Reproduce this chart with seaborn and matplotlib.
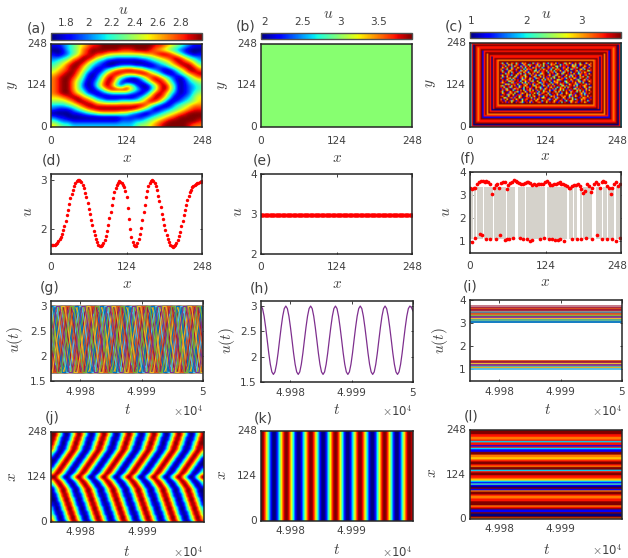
"""Twelve-panel lattice figure: snapshots, profiles, time series and space-time plots."""
import matplotlib
matplotlib.use('Agg')
import matplotlib.pyplot as plt  # noqa: E402
from matplotlib.transforms import ScaledTranslation  # noqa: E402
import numpy as np  # noqa: E402
import pandas as pd  # noqa: E402
import seaborn as sns  # noqa: E402

W, H = 628, 558
INK = '#404040'
EDGE = '#262626'
MATLAB = ['#0072BD', '#D95319', '#EDB120', '#7E2F8E', '#77AC30', '#4DBEEE', '#A2142F']

T_START, T_END = 49975.2, 50000
X_TICKS = [0, 124, 248]
T_TICKS = [49980, 49990, 50000]
T_LABELS = ['4.998', '4.999', '5']

# colour levels 0-9, top row first
SPIRAL_ROWS = [
    '1123456788999999999998876543211',
    '0013457899999988899987654321000',
    '1012457898876666666778998642101',
    '2234679986533222223345678986432',
    '3456899753210000000123456898753',
    '4568997532100122211001235689975',
    '5678986420135789987532101357997',
    '6789975201368987789975310135789',
    '7899864102589642113689753102467',
    '7899753013698510001368974201345',
    '7899752014797316520025896301234',
    '7899753102479999642025896301234',
    '7899865210123333210258974201245',
    '6678997642100000013579863012356',
    '5556799875433344445798630123456',
    '3334568998888888899853101345677',
    '2111245789999999986420123456788',
    '0000112345666655321012345678999',
    '2110000000000011111234567899999',
    '4322111111111122233456789999998',
    '6544333333333333345567899999877',
]
SPIRAL_RANGE = (1.67, 2.99)
SPIRAL_TICKS = [1.8, 2, 2.2, 2.4, 2.6, 2.8]
SPIRAL_LABELS = ['1.8', '2', '2.2', '2.4', '2.6', '2.8']

UNIFORM_U = 2.97
UNIFORM_RANGE = (1.95, 3.94)
UNIFORM_TICKS = [2, 2.5, 3, 3.5]
UNIFORM_LABELS = ['2', '2.5', '3', '3.5']

# panel (c): colour of each nested frame from the edge inward, then the speckled core
FRAME_RANGE = (0.97, 3.71)
FRAME_TICKS = [1, 2, 3]
FRAME_RINGS = '38098789189798089879'
CORE_ROWS = [
    '989818969089874198961899878199698987918949899168978198968919',
    '891799847918996989187996899489781996891789149867998917989489',
    '718969198968914987998179681998974189689981798996148996879198',
    '996489871799689198894981979668918997148996891784999189678981',
    '879916998189479986179869981149899687189978699418968917989698',
    '198974896918871996849799168998794198961789989648179987941899',
    '968918779499186897918969481789961989879149968979819986148979',
    '849991689874189961978898149968717998496189979168984979618998',
    '971868994198979618849691798948996117898694989718996849817969',
    '189749918687991498968197994816898971499687918989461798996189',
    '896198479981689497818996874199718698941789694899187989168947',
    '748998169719489868919747989168949817998946179889614989768991',
    '991674898896119784989618799489187969189478991689874198986179',
    '868919947189896149791889964179899418769898147998961879491998',
    '179894687998149968187499691878994916878199469817989641789968',
    '989168941798916789849719981694978819964789198968917499861798',
    '719987496891984179968914789961879496198978149889671948997189',
    '948169899471987968919848996179818974996819789416989178699489',
    '869978149968189749917986148979986918479981969847189969187998',
    '199487918996849179869718994689917989168947998189691478988169',
    '978196948919789681499879681789949871699184798961989417968991',
    '849917689989147968198946179889618794989691784919986179899648',
    '791849968179989416878994917968981499687918968947189976149898',
    '968979148996817949891687989419978168949917896198784991689179',
    '189498971689948178969917848969179899461798818996479189968917',
    '987916849978191689478998617949891687999418978916849167989168',
    '849169978948916879919481789968149789618998479681979849916897',
]

# panel (d): u(x), one value every 2 sites
PROFILE_STEP = 2
PROFILE_U = [
    1.68, 1.68, 1.69, 1.69, 1.70, 1.72, 1.76, 1.80, 1.85, 1.91,
    1.98, 2.07, 2.17, 2.28, 2.40, 2.52, 2.63, 2.72, 2.80, 2.87,
    2.93, 2.97, 2.99, 2.99, 2.98, 2.95, 2.90, 2.83, 2.74, 2.65,
    2.54, 2.42, 2.30, 2.19, 2.08, 1.97, 1.88, 1.80, 1.74, 1.69,
    1.66, 1.66, 1.68, 1.72, 1.78, 1.86, 1.96, 2.08, 2.22, 2.36,
    2.50, 2.63, 2.75, 2.83, 2.90, 2.94, 2.97, 2.96, 2.94, 2.90,
    2.85, 2.78, 2.66, 2.44, 2.20, 2.00, 1.85, 1.75, 1.68, 1.66,
    1.66, 1.72, 1.80, 1.90, 2.02, 2.18, 2.35, 2.50, 2.65, 2.77,
    2.87, 2.93, 2.98, 2.99, 2.98, 2.94, 2.88, 2.79, 2.68, 2.57,
    2.45, 2.32, 2.20, 2.09, 1.98, 1.88, 1.80, 1.74, 1.69, 1.66,
    1.65, 1.66, 1.68, 1.72, 1.78, 1.86, 1.95, 2.06, 2.17, 2.29,
    2.40, 2.50, 2.60, 2.68, 2.75, 2.80, 2.85, 2.88, 2.90, 2.92,
    2.93, 2.94, 2.95, 2.96, 2.97,
]

# panel (f): gray stems, upper dots every 3 sites, sparse lower dots
BAR_START = [0, 6.4, 11, 22.5, 40, 48, 60, 79.5, 92, 126, 163, 170, 180, 186, 207, 218, 226, 240]
BAR_END = [4.3, 10, 21, 37.5, 47, 59, 73.5, 91, 123.5, 158.5, 169, 176, 184, 201, 217, 225, 236, 248]
BAR_LOW, BAR_HIGH = 1.1, 3.35
UPPER_STEP = 3
UPPER_U = [
    3.30, 3.28, 3.30, 3.33, 3.50, 3.55, 3.60, 3.62, 3.58, 3.60, 3.55, 3.48, 3.05, 3.30, 3.45, 3.50,
    3.30, 3.52, 3.55, 3.55, 3.25, 3.45, 3.52, 3.55, 3.65, 3.63, 3.55, 3.52, 3.50, 3.50, 3.52, 3.55,
    3.55, 3.52, 3.45, 3.48, 3.45, 3.47, 3.47, 3.48, 3.50, 3.55, 3.60, 3.52, 3.45, 3.45, 3.50, 3.50,
    3.52, 3.55, 3.50, 3.48, 3.45, 3.40, 3.30, 3.32, 3.40, 3.45, 3.45, 3.50, 3.40, 3.25, 3.10, 3.20,
    3.50, 3.40, 3.15, 3.30, 3.50, 3.55, 3.50, 3.30, 3.55, 3.60, 3.55, 3.40, 3.30, 3.05, 3.30, 3.50,
    3.55, 3.40, 3.50,
]
LOWER_X = [2.7, 9, 16, 19, 26, 33, 42, 50, 57, 60, 64, 70, 82, 87, 94, 98, 102, 115, 122, 129, 134,
           139, 144, 148, 155, 167, 175, 182, 191, 200, 208, 217, 225, 233, 240, 246]
LOWER_U = [0.97, 1.14, 1.32, 1.26, 1.10, 1.09, 1.09, 1.26, 1.07, 1.10, 1.10, 1.14, 1.16, 1.10, 1.10,
           1.04, 1.07, 1.10, 1.14, 1.12, 1.10, 1.07, 1.07, 1.12, 1.04, 1.09, 1.10, 1.10, 1.14, 1.10,
           1.29, 1.10, 1.10, 1.10, 1.03, 1.14]

# panel (j): one wave pattern per phase, and which pattern each row shows (bottom row first).
# The same rows give the lines of panel (g), each drawn at several small time lags so the
# crossings fill in like the 248 lines of the original.
WAVE_PATTERNS = [
    '9841014898410148984101489841014898410148984101489',
    '9963003699630036996300369963003699630036996300369',
    '8984101489841014898410148984101489841014898410148',
    '6996300369963003699630036996300369963003699630036',
    '4898410148984101489841014898410148984101489841014',
    '3699630036996300369963003699630036996300369963003',
    '1489841014898410148984101489841014898410148984101',
    '0369963003699630036996300369963003699630036996300',
    '0148984101489841014898410148984101489841014898410',
    '0036996300369963003699630036996300369963003699630',
    '1014898410148984101489841014898410148984101489841',
    '3003699630036996300369963003699630036996300369963',
    '4101489841014898410148984101489841014898410148984',
    '6300369963003699630036996300369963003699630036996',
    '8410148984101489841014898410148984101489841014898',
    '9630036996300369963003699630036996300369963003699',
]
WAVE_ROW_PHASE = [14, 13, 13, 12, 12, 11, 11, 10, 10, 9, 9, 8, 8, 7, 7, 6, 5, 4, 3, 1,
                  1, 3, 4, 5, 6, 7, 8, 9, 10, 11, 12, 13, 14, 14, 15, 15, 0, 0, 1, 1]
WAVE_LAGS = [-0.26, -0.20, -0.13, -0.07, 0.0, 0.07, 0.13, 0.20]

# panel (h)/(k): u(t) of the synchronised state
SYNC_U = [
    3.00, 2.95, 2.80, 2.58, 2.33, 2.07, 1.85, 1.70, 1.65, 1.70, 1.85, 2.07, 2.33, 2.58, 2.80, 2.95,
    3.00, 2.95, 2.80, 2.58, 2.33, 2.07, 1.85, 1.70, 1.65, 1.70, 1.85, 2.07, 2.33, 2.58, 2.80, 2.95,
    3.00, 2.95, 2.80, 2.58, 2.33, 2.07, 1.85, 1.70, 1.65, 1.70, 1.85, 2.07, 2.33, 2.58, 2.80, 2.95,
    3.00, 2.95, 2.80, 2.58, 2.33, 2.07, 1.85, 1.70, 1.65, 1.70, 1.85, 2.07, 2.33, 2.58, 2.80, 2.95,
    3.00, 2.95, 2.80, 2.58, 2.33, 2.07, 1.85, 1.70, 1.65, 1.70, 1.85, 2.07, 2.33, 2.58, 2.80, 2.95,
    3.00, 2.95, 2.80, 2.58, 2.33, 2.07, 1.85, 1.70, 1.65, 1.70, 1.85, 2.07, 2.33, 2.58, 2.80, 2.95,
    3.00, 2.97, 2.90,
]

# panel (i): constant levels and the colour each one shows
LEVEL_U = [3.74, 3.66, 3.61, 3.55, 3.49, 3.45, 3.39, 3.31, 3.25, 3.20, 3.14, 3.05,
           1.37, 1.31, 1.25, 1.18, 1.12, 1.06, 1.00]
LEVEL_COLORS = ['#C07080', '#A2142F', '#D95319', '#A2142F', '#808080', '#5A7A9A', '#D95319', '#77AC30',
                '#7E2F8E', '#EDB120', '#4DAE90', '#0072BD', '#D95319', '#A2142F', '#EDB120', '#7E2F8E',
                '#4DAE90', '#EDB120', '#4DBEEE']

# panel (l): colour of each stripe, top first
STRIPES = '99988778388183119977678998799389988763141091799877889997891190097'

sns.set_theme(style='ticks', rc={
    'font.family': 'DejaVu Sans', 'mathtext.fontset': 'cm', 'font.size': 7.6,
    'axes.edgecolor': EDGE, 'axes.linewidth': 1.1, 'text.color': INK,
    'xtick.color': INK, 'ytick.color': INK, 'xtick.labelsize': 7.6, 'ytick.labelsize': 7.6,
    'xtick.direction': 'in', 'ytick.direction': 'in', 'xtick.top': True, 'ytick.right': True,
    'xtick.major.size': 1.8, 'ytick.major.size': 1.8, 'xtick.major.width': 0.7,
    'ytick.major.width': 0.7, 'xtick.major.pad': 4.5, 'ytick.major.pad': 3,
})

fig = plt.figure(figsize=(W / 100, H / 100), dpi=100)


def add_box(left, top, right, bottom):
    return fig.add_axes([left / W, 1 - bottom / H, (right - left) / W, (bottom - top) / H])


def label(px, py, text, size=7.6, rotation=0, ha='center'):
    fig.text(px / W, 1 - py / H, text, fontsize=size, rotation=rotation, ha=ha, va='center')


def digits(rows):
    return np.array([[int(c) for c in row] for row in rows], dtype=float)


def to_range(levels, limits):
    return limits[0] + levels / 9 * (limits[1] - limits[0])


def pull_last_xlabel(ax, px):
    # the last tick label of the right column would run off the canvas
    last = ax.get_xticklabels()[-1]
    last.set_transform(last.get_transform() + ScaledTranslation(-px / 100, 0, fig.dpi_scale_trans))


def finish_image(ax, grid, limits, xticks, xlabels, pad, smooth):
    """Reset what heatmap changes; the grid runs bottom row first. smooth is (interpolation, stage)."""
    nrows, ncols = grid.shape
    if smooth:
        # heatmap's mesh cannot blur, so the same grid goes on top of it as an image
        ax.imshow(grid, cmap='jet', vmin=limits[0], vmax=limits[1], origin='lower', aspect='auto',
                  extent=(0, ncols, 0, nrows), interpolation=smooth[0], interpolation_stage=smooth[1],
                  zorder=2)
    ax.set_xlim(0, ncols)
    ax.set_ylim(0, nrows)
    ax.set_xticks([ncols * p for p in xticks], labels=xlabels, rotation=0)
    ax.set_yticks([nrows * v / 248 for v in X_TICKS], labels=[str(v) for v in X_TICKS], rotation=0)
    ax.tick_params(length=0, top=False, right=False)
    ax.tick_params(axis='x', pad=pad)
    ax.set_xlabel('')
    ax.set_ylabel('')
    for spine in ax.spines.values():
        spine.set_visible(True)
        spine.set_color(EDGE)


def snapshot(box, cbox, grid, limits, ticks, tick_labels, tick_y, smooth=None):
    ax = add_box(*box)
    cax = add_box(*cbox)
    sns.heatmap(grid, cmap='jet', vmin=limits[0], vmax=limits[1], ax=ax, cbar_ax=cax,
                cbar_kws={'orientation': 'horizontal'})
    cb = ax.collections[0].colorbar
    finish_image(ax, grid, limits, [0, 0.5, 1], [str(v) for v in X_TICKS], 6.5, smooth)
    cb.set_ticks(ticks, labels=[])
    cax.tick_params(length=0, top=False, bottom=False)
    cb.outline.set_linewidth(1.0)
    cb.outline.set_edgecolor('#505050')
    for tick, text in zip(ticks, tick_labels):
        frac = (tick - limits[0]) / (limits[1] - limits[0])
        label(cbox[0] + frac * (cbox[2] - cbox[0]), tick_y, text)
    return ax


def spacetime(box, grid, limits, smooth):
    ax = add_box(*box)
    sns.heatmap(grid, cmap='jet', vmin=limits[0], vmax=limits[1], cbar=False, ax=ax)
    pos = [(t - T_START) / (T_END - T_START) for t in T_TICKS[:2]]
    finish_image(ax, grid, limits, pos, T_LABELS[:2], 3.5, smooth)
    return ax


def line_axes(box, ylim, yticks, ylabels, time_axis=False):
    ax = add_box(*box)
    if time_axis:
        ax.set_xlim(T_START, T_END)
        ax.set_xticks(T_TICKS, labels=T_LABELS)
    else:
        ax.set_xlim(0, 248)
        ax.set_xticks(X_TICKS, labels=[str(v) for v in X_TICKS])
        ax.tick_params(axis='x', pad=5.5)
    ax.set_ylim(*ylim)
    ax.set_yticks(yticks, labels=ylabels)
    return ax


# top row: snapshots
spiral = to_range(digits(SPIRAL_ROWS)[::-1], SPIRAL_RANGE)
snapshot((51, 44, 202, 127), (51, 33, 202, 40), spiral, SPIRAL_RANGE, SPIRAL_TICKS, SPIRAL_LABELS, 23,
         smooth=('bicubic', 'data'))
snapshot((261, 44, 412, 127), (261, 33, 412, 39), np.full((2, 2), UNIFORM_U), UNIFORM_RANGE,
         UNIFORM_TICKS, UNIFORM_LABELS, 22)

frames = np.zeros((56, 100))
for k, ring in enumerate(FRAME_RINGS):
    frames[k * 16 // 20:56 - k * 13 // 20, k:100 - k] = int(ring)
frames[16:43, 20:80] = digits(CORE_ROWS)
ax = snapshot((470, 43, 621, 127), (470, 32, 621, 38), to_range(frames, FRAME_RANGE), FRAME_RANGE,
              FRAME_TICKS, ['1', '2', '3'], 21, smooth=('bilinear', 'rgba'))
pull_last_xlabel(ax, 4)

# second row: profiles
profile_x = np.arange(len(PROFILE_U)) * PROFILE_STEP
ax = line_axes((51, 174, 202, 254), (1.5, 3.12), [2, 3], ['2', '3'])
sns.scatterplot(x=profile_x, y=PROFILE_U, color='red', s=6, linewidth=0, ax=ax)

ax = line_axes((261, 174, 412, 254), (2, 4), [2, 3, 4], ['2', '3', '4'])
sns.scatterplot(x=profile_x, y=[UNIFORM_U] * len(profile_x), color='red', s=9, linewidth=0, ax=ax)

ax = line_axes((470, 172, 621, 253), (0.5, 4), [1, 2, 3, 4], ['1', '2', '3', '4'])
for start, end in zip(BAR_START, BAR_END):
    ax.fill_between([start, end], BAR_LOW, BAR_HIGH, color='#D5D2CB', linewidth=0)
sns.scatterplot(x=np.arange(len(UPPER_U)) * UPPER_STEP, y=UPPER_U, color='red', s=7, linewidth=0, ax=ax)
sns.scatterplot(x=LOWER_X, y=LOWER_U, color='red', s=7, linewidth=0, ax=ax)
pull_last_xlabel(ax, 4)

# third row: time series
wave = to_range(digits([WAVE_PATTERNS[p] for p in WAVE_ROW_PHASE]), SPIRAL_RANGE)
wave_t = np.linspace(T_START, T_END, wave.shape[1])
n_lines = wave.shape[0] * len(WAVE_LAGS)
stride = 67  # draw order only: scatter neighbouring lines through the stack
frames_t, frames_u, frames_site = [], [], []
for draw in range(n_lines):
    line = (draw * stride) % n_lines
    row, lag = divmod(line, len(WAVE_LAGS))
    frames_t.append(wave_t + WAVE_LAGS[lag])
    frames_u.append(wave[row])
    frames_site.append(np.full(wave.shape[1], draw))
wave_df = pd.DataFrame({
    't': np.concatenate(frames_t),
    'u': np.concatenate(frames_u),
    'site': np.concatenate(frames_site),
})
ax = line_axes((51, 301, 203, 381), (1.5, 3.1), [1.5, 2, 2.5, 3], ['1.5', '2', '2.5', '3'], time_axis=True)
sns.lineplot(data=wave_df, x='t', y='u', hue='site', palette=[MATLAB[i % 7] for i in range(n_lines)],
             estimator=None, sort=False, legend=False, lw=0.8, ax=ax)
ax.set_xlim(T_START, T_END)
ax.set_xlabel('')
ax.set_ylabel('')

sync_t = np.linspace(T_START, T_END, len(SYNC_U))
ax = line_axes((261, 301, 413, 382), (1.5, 3.1), [1.5, 2, 2.5, 3], ['1.5', '2', '2.5', '3'], time_axis=True)
sns.lineplot(x=sync_t, y=SYNC_U, color='#7E2F8E', lw=0.9, ax=ax)

level_df = pd.DataFrame({
    't': np.tile([T_START, T_END], len(LEVEL_U)),
    'u': np.repeat(LEVEL_U, 2),
    'site': np.repeat(np.arange(len(LEVEL_U)), 2),
})
ax = line_axes((470, 300, 622, 381), (0.5, 4), [1, 2, 3, 4], ['1', '2', '3', '4'], time_axis=True)
sns.lineplot(data=level_df, x='t', y='u', hue='site', palette=LEVEL_COLORS, estimator=None, sort=False,
             legend=False, lw=1.3, ax=ax)
ax.set_xlabel('')
ax.set_ylabel('')

# bottom row: space-time plots
spacetime((51, 432, 204, 522), wave, SPIRAL_RANGE, ('bicubic', 'data'))
spacetime((261, 431, 413, 521), np.array([SYNC_U, SYNC_U]), SPIRAL_RANGE, ('bilinear', 'data'))
stripes = digits([[c] * 2 for c in STRIPES[::-1]])
spacetime((470, 430, 622, 519), stripes, (0, 9), ('bilinear', 'rgba'))

# panel letters and axis names, placed by hand
for px, py, s in [(37, 28, '(a)'), (246, 27, '(b)'), (454, 27, '(c)'), (52, 161, '(d)'), (262, 161, '(e)'),
                  (468, 158, '(f)'), (50, 288, '(g)'), (260, 289, '(h)'), (470, 287, '(i)'),
                  (52, 418, '(j)'), (263, 418, '(k)'), (471, 416, '(l)')]:
    label(px, py, s, size=10)
for px, py in [(127, 157), (337, 157), (545, 156), (127, 284), (337, 284), (545, 282)]:
    label(px, py, '$x$', size=11)
for px, py in [(128, 410), (337, 410), (548, 410), (127, 551), (337, 550), (547, 549)]:
    label(px, py, '$t$', size=11)
for px, py in [(123, 10), (328, 13), (546, 13)]:
    label(px, py, '$u$', size=11)
for px, py, s in [(13, 85, '$y$'), (223, 85, '$y$'), (431, 83, '$y$'), (27, 212, '$u$'), (237, 212, '$u$'),
                  (445, 212, '$u$'), (15, 340, '$u(t)$'), (227, 341, '$u(t)$'), (440, 341, '$u(t)$'),
                  (12, 477, '$x$'), (222, 475, '$x$'), (431, 473, '$x$')]:
    label(px, py, s, size=11, rotation=90)
for px, py in [(203, 411), (412, 411), (622, 411), (203, 552), (412, 552), (622, 550)]:
    label(px, py, '$\\times$10$^4$', size=8.5, ha='right')

fig.savefig('out.png', dpi=100)
